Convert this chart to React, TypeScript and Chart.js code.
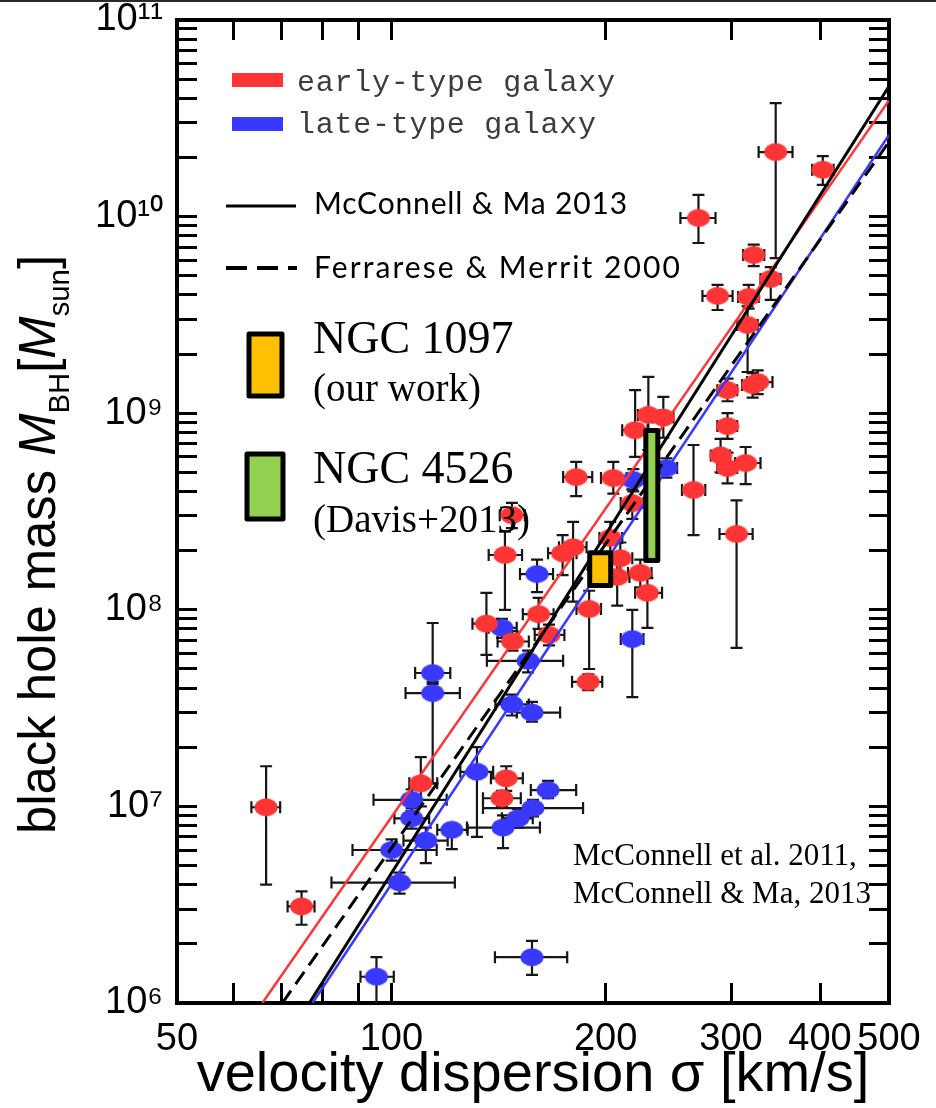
import React, { useEffect, useRef } from 'react';
import { Chart, registerables } from 'chart.js';

Chart.register(...registerables);

// ---------- axis ticks ----------
const xLabeledTicks = [50, 100, 200, 300, 400, 500];
const xTickLabels = ['50', '100', '200', '300', '400', '500'];
const xMinorTicks = [60, 70, 80, 90];
const yLabeledTicks = [1e6, 1e7, 1e8, 1e9, 1e10, 1e11];
const yTickLabels = ['10⁶', '10⁷', '10⁸', '10⁹', '10¹⁰', '10¹¹'];
const yMantissas = [2, 3, 4, 5, 6, 7, 8, 9];

// ---------- early-type galaxies (red) ----------
const earlySigma = [66.7, 74.8, 110, 145, 143, 136, 148, 161, 166.5, 144.4, 189.6, 189, 180, 174, 181.8, 205, 218, 147.7, 209.7, 223.7, 207.6, 203, 228.9, 229.6, 241, 220, 296.6, 296.6, 290, 296.6, 314.5, 265.7, 305.4, 316.5, 327, 321.7, 346.6, 403.6, 270, 322.8, 341.1, 287.2, 317.6];
const earlyMass = [9.9e6, 3.1e6, 1.31e7, 1.39e7, 1.1e7, 8.5e7, 6.9e7, 9.5e7, 7.45e7, 1.9e8, 1.01e8, 4.3e7, 2.08e8, 1.94e8, 4.73e8, 4.68e8, 3.49e8, 3.03e8, 1.83e8, 1.54e8, 1.47e8, 2.32e8, 1.22e8, 9.8e8, 9.5e8, 8.2e8, 1.31e9, 8.6e8, 6.1e8, 5.26e8, 5.58e8, 4.07e8, 2.43e8, 2.81e9, 1.44e9, 1.39e9, 2.13e10, 1.73e10, 9.84e9, 6.38e9, 4.82e9, 3.95e9, 3.9e9];
const earlySigmaLo = [63.6, 71.5, 106, 138, 134.5, 130, 141, 153, 159, 137, 182, 179.4, 172, 166, 174.3, 197, 210, 142, 202, 215, 200, 196, 220, 222, 233, 211, 287, 287, 281, 287, 304, 256, 289, 306, 316, 311, 328, 390, 254.7, 312, 330, 273.5, 307];
const earlySigmaHi = [69.8, 78, 116, 153, 152, 141, 156, 169, 175, 152.6, 197, 197.8, 188, 182, 191.5, 214, 226, 154, 218, 232, 216, 211, 240, 238, 249, 229, 306, 306, 299, 306, 330, 276, 321.7, 327, 343, 332, 366, 418, 285.3, 334, 352, 301.5, 328];
const earlyMassLo = [4.0e6, 2.5e6, 1.0e7, 1.2e7, 1.0e7, 5.9e7, 6.2e7, 8.0e7, 6.6e7, 1.0e8, 5.0e7, 3.9e7, 1.1e8, 1.5e8, 3.79e8, 3.9e8, 2.9e8, 2.6e8, 1.5e8, 1.3e8, 1.05e8, 1.9e8, 8.1e7, 6.5e8, 7.5e8, 6.0e8, 1.15e9, 7.4e8, 5.0e8, 4.4e8, 4.36e8, 2.4e8, 6.4e7, 1.62e9, 1.25e9, 1.2e9, 6.15e9, 1.45e10, 7.34e9, 5.6e9, 3.77e9, 3.35e9, 3.4e9];
const earlyMassHi = [1.6e7, 3.7e6, 1.78e7, 1.6e7, 1.2e7, 1.22e8, 7.8e7, 1.15e8, 8.4e7, 2.5e8, 1.25e8, 4.7e7, 2.8e8, 2.4e8, 5.65e8, 5.65e8, 4.1e8, 3.5e8, 2.2e8, 1.8e8, 1.8e8, 2.8e8, 1.45e8, 1.53e9, 1.21e9, 1.31e9, 1.5e9, 1.0e9, 7.4e8, 6.3e8, 6.73e8, 6.89e8, 3.6e8, 3.5e9, 1.65e9, 1.6e9, 3.78e10, 2.03e10, 1.29e10, 7.2e9, 5.54e9, 4.5e9, 4.5e9];

// ---------- late-type galaxies (blue) ----------
const lateSigma = [106.8, 106.8, 100.1, 111.8, 121.6, 102.7, 131.9, 166, 158.1, 150.6, 143.5, 157.6, 95.3, 114.3, 114.3, 147.7, 157.6, 155.6, 218, 143, 160.2, 218.7, 243.4];
const lateMass = [1.08e7, 8.7e6, 6.0e6, 6.7e6, 7.6e6, 4.1e6, 1.5e7, 1.21e7, 9.8e6, 8.7e6, 7.8e6, 1.71e6, 1.36e6, 4.77e7, 3.77e7, 3.3e7, 3.0e7, 5.5e7, 7.1e7, 8.1e7, 1.52e8, 4.57e8, 5.26e8];
const lateSigmaLo = [94.4, 101, 88.2, 104, 116, 82.4, 125, 157, 134.5, 143, 127.7, 139.8, 90.5, 108, 104.7, 140, 150, 136.2, 210, 137, 151.6, 211, 235];
const lateSigmaHi = [119.6, 113, 115.8, 120, 128, 122.8, 139, 181.8, 185.9, 158, 161.7, 176.6, 100.8, 121, 124.8, 156, 172.6, 174.3, 226, 150, 168.7, 227, 252];
const lateMassLo = [9.5e6, 7.7e6, 5.3e6, 5.15e6, 6.07e6, 3.6e6, 7.0e6, 1.1e7, 8.9e6, 7.8e6, 6.14e6, 1.39e6, 9.0e5, 4.2e7, 1.31e7, 2.9e7, 2.7e7, 4.8e7, 3.6e7, 7.2e7, 1.23e8, 4.0e8, 4.7e8];
const lateMassHi = [1.22e7, 9.8e6, 6.8e6, 7.8e6, 8.14e6, 4.6e6, 2.0e7, 1.35e7, 1.08e7, 9.7e6, 9.0e6, 2.07e6, 1.71e6, 8.57e7, 4.3e7, 3.7e7, 3.4e7, 6.2e7, 1.0e8, 9.0e7, 1.8e8, 5.2e8, 5.9e8];

// ---------- fit relations (end points) ----------
const earlyFitSigma = [65.9, 500];
const earlyFitMass = [1e6, 3.9e10];
const lateFitSigma = [77.5, 500];
const lateFitMass = [1e6, 2.6e10];
const mm13FitSigma = [76.7, 500];
const mm13FitMass = [1e6, 4.6e10];
const fm00FitSigma = [70.3, 500];
const fm00FitMass = [1e6, 2.4e10];

// ---------- highlighted galaxies ----------
const ngcNames = ['NGC 1097', 'NGC 4526'];
const ngcSigma = [196.5, 232.2];
const ngcMassLo = [1.33e8, 1.78e8];
const ngcMassHi = [1.95e8, 8.17e8];
const ngcColors = ['#ffc000', '#92d050'];

// ---------- styles ----------
const RED = '#ff3434';
const BLUE = '#3838ff';
const SANS = '"Liberation Sans", Arial, sans-serif';
const SERIF = '"Liberation Serif", "Times New Roman", serif';
const MONO = '"Liberation Mono", "DejaVu Sans Mono", monospace';
const CAP = 6;
const NGC_HALF_W = [10.5, 6];

function pts(xs: number[], ys: number[]) {
  return xs.map((x, i) => ({ x, y: ys[i] }));
}

function makeEllipse(color: string, w: number, h: number) {
  const c = document.createElement('canvas');
  c.width = w;
  c.height = h;
  const g = c.getContext('2d') as CanvasRenderingContext2D;
  g.fillStyle = color;
  g.beginPath();
  g.ellipse(w / 2, h / 2, w / 2 - 0.5, h / 2 - 0.5, 0, 0, Math.PI * 2);
  g.fill();
  return c;
}

function fitText(ctx: CanvasRenderingContext2D, text: string, x: number, y: number, width: number) {
  (ctx as any).letterSpacing = '0px';
  const w = ctx.measureText(text).width;
  const sp = (width - w) / Math.max(1, text.length - 1);
  (ctx as any).letterSpacing = sp.toFixed(2) + 'px';
  ctx.fillText(text, x, y);
  (ctx as any).letterSpacing = '0px';
}

function drawErrors(ctx: CanvasRenderingContext2D, xs: any, ys: any, s: number[], m: number[], sLo: number[], sHi: number[], mLo: number[], mHi: number[]) {
  for (let i = 0; i < s.length; i++) {
    const px = xs.getPixelForValue(s[i]);
    const py = ys.getPixelForValue(m[i]);
    const xl = xs.getPixelForValue(sLo[i]);
    const xr = xs.getPixelForValue(sHi[i]);
    const yt = ys.getPixelForValue(mHi[i]);
    const yb = ys.getPixelForValue(mLo[i]);
    ctx.beginPath();
    ctx.moveTo(xl, py); ctx.lineTo(xr, py);
    ctx.moveTo(px, yt); ctx.lineTo(px, yb);
    ctx.moveTo(xl, py - CAP); ctx.lineTo(xl, py + CAP);
    ctx.moveTo(xr, py - CAP); ctx.lineTo(xr, py + CAP);
    ctx.moveTo(px - CAP, yt); ctx.lineTo(px + CAP, yt);
    ctx.moveTo(px - CAP, yb); ctx.lineTo(px + CAP, yb);
    ctx.stroke();
  }
}

const errorBarPlugin = {
  id: 'errorBars',
  beforeDatasetsDraw(chart: any) {
    const { ctx, chartArea, scales } = chart;
    ctx.save();
    ctx.beginPath();
    ctx.rect(chartArea.left, chartArea.top, chartArea.right - chartArea.left, chartArea.bottom - chartArea.top);
    ctx.clip();
    ctx.strokeStyle = '#161616';
    ctx.lineWidth = 2.2;
    drawErrors(ctx, scales.x, scales.y, lateSigma, lateMass, lateSigmaLo, lateSigmaHi, lateMassLo, lateMassHi);
    drawErrors(ctx, scales.x, scales.y, earlySigma, earlyMass, earlySigmaLo, earlySigmaHi, earlyMassLo, earlyMassHi);
    ctx.restore();
  },
  afterDatasetsDraw(chart: any) {
    const { ctx, scales } = chart;
    ctx.save();
    for (let i = 0; i < ngcSigma.length; i++) {
      const cx = scales.x.getPixelForValue(ngcSigma[i]);
      const yt = scales.y.getPixelForValue(ngcMassHi[i]);
      const yb = scales.y.getPixelForValue(ngcMassLo[i]);
      const hw = NGC_HALF_W[i];
      ctx.fillStyle = ngcColors[i];
      ctx.fillRect(cx - hw, yt, hw * 2, yb - yt);
      ctx.lineWidth = 5;
      ctx.lineJoin = 'round';
      ctx.strokeStyle = '#000';
      ctx.strokeRect(cx - hw, yt, hw * 2, yb - yt);
    }
    ctx.restore();
  },
};

const decorPlugin = {
  id: 'decor',
  afterDraw(chart: any) {
    const ctx: CanvasRenderingContext2D = chart.ctx;
    ctx.save();
    // thin frame line along the top edge of the picture
    ctx.fillStyle = '#2a2a2a';
    ctx.fillRect(0, 0, chart.width, 2);
    ctx.textBaseline = 'alphabetic';
    ctx.textAlign = 'left';
    // colour legend
    ctx.fillStyle = RED;
    ctx.fillRect(232, 73, 51, 14);
    ctx.fillStyle = BLUE;
    ctx.fillRect(232, 117, 51, 14);
    ctx.fillStyle = '#3c3c3c';
    ctx.font = `30px ${MONO}`;
    fitText(ctx, 'early-type galaxy', 297, 91, 318);
    fitText(ctx, 'late-type galaxy', 297, 133, 299);
    // line legend
    ctx.strokeStyle = '#000';
    ctx.lineWidth = 3;
    ctx.beginPath();
    ctx.moveTo(226, 206); ctx.lineTo(296, 206);
    ctx.stroke();
    ctx.lineWidth = 4;
    ctx.setLineDash([21, 10]);
    ctx.beginPath();
    ctx.moveTo(226, 268); ctx.lineTo(297, 268);
    ctx.stroke();
    ctx.setLineDash([]);
    ctx.fillStyle = '#000';
    ctx.font = `30px Lato, "Open Sans", sans-serif`;
    fitText(ctx, 'McConnell & Ma 2013', 314, 214, 313);
    fitText(ctx, 'Ferrarese & Merrit 2000', 314, 278, 366);
    // NGC legend
    const sw = [[249, 334, 33, 62], [247, 454, 36, 65]];
    for (let i = 0; i < 2; i++) {
      ctx.fillStyle = ngcColors[i];
      ctx.fillRect(sw[i][0], sw[i][1], sw[i][2], sw[i][3]);
      ctx.lineWidth = 5;
      ctx.lineJoin = 'round';
      ctx.strokeStyle = '#000';
      ctx.strokeRect(sw[i][0], sw[i][1], sw[i][2], sw[i][3]);
    }
    ctx.fillStyle = '#000';
    ctx.font = `46px ${SERIF}`;
    ctx.fillText(ngcNames[0], 313, 353);
    ctx.fillText(ngcNames[1], 313, 483);
    ctx.font = `39px ${SERIF}`;
    ctx.fillText('(our work)', 313, 401);
    ctx.fillText('(Davis+2013)', 313, 532);
    // source note
    ctx.font = `31px ${SERIF}`;
    ctx.fillText('McConnell et al. 2011,', 573, 865);
    ctx.fillText('McConnell & Ma, 2013', 573, 903);
    // y title (rich text)
    const segs = [
      { t: 'black hole mass ', f: `52px ${SANS}`, dy: 0 },
      { t: 'M', f: `italic 52px ${SANS}`, dy: 0 },
      { t: 'BH', f: `30px ${SANS}`, dy: 14 },
      { t: '[', f: `52px ${SANS}`, dy: 0 },
      { t: 'M', f: `italic 52px ${SANS}`, dy: 0 },
      { t: 'sun', f: `30px ${SANS}`, dy: 14 },
      { t: ']', f: `52px ${SANS}`, dy: 0 },
    ];
    let total = 0;
    const widths = segs.map((s) => { ctx.font = s.f; const w = ctx.measureText(s.t).width; total += w; return w; });
    const sx = 579 / total;
    ctx.translate(55, 834);
    ctx.rotate(-Math.PI / 2);
    ctx.scale(sx, 1);
    let xx = 0;
    segs.forEach((s, i) => { ctx.font = s.f; ctx.fillText(s.t, xx, s.dy); xx += widths[i]; });
    ctx.restore();
  },
};

function yTicksList() {
  const out: { value: number }[] = [];
  for (let d = 0; d < yLabeledTicks.length - 1; d++) {
    out.push({ value: yLabeledTicks[d] });
    yMantissas.forEach((m) => out.push({ value: m * yLabeledTicks[d] }));
  }
  out.push({ value: yLabeledTicks[yLabeledTicks.length - 1] });
  return out;
}
function xTicksList() {
  return [...xLabeledTicks, ...xMinorTicks].sort((a, b) => a - b).map((v) => ({ value: v }));
}
function labelOf(v: number, ticks: number[], labels: string[]) {
  const i = ticks.findIndex((t) => Math.abs(t - v) / t < 1e-6);
  return i >= 0 ? labels[i] : '';
}
function fixBox(s: any, w: number | null, h: number | null) {
  if (w !== null) s.width = w;
  if (h !== null) s.height = h;
  s.paddingLeft = 0;
  s.paddingRight = 0;
  s.paddingTop = 0;
  s.paddingBottom = 0;
}

const gridOpts = { drawOnChartArea: false, drawTicks: true, tickLength: -20, tickWidth: 3, color: '#000' };
const borderOpts = { display: true, width: 4, color: '#000' };

export default function App() {
  const ref = useRef<HTMLCanvasElement | null>(null);
  useEffect(() => {
    if (!ref.current) return;
    const redImg = makeEllipse(RED, 24, 19);
    const blueImg = makeEllipse(BLUE, 24, 19);
    const chart = new Chart(ref.current, {
      type: 'scatter',
      data: {
        datasets: [
          { label: 'McConnell & Ma 2013', data: pts(mm13FitSigma, mm13FitMass), showLine: true, pointRadius: 0, borderColor: '#000', borderWidth: 3, order: 0 },
          { label: 'Ferrarese & Merrit 2000', data: pts(fm00FitSigma, fm00FitMass), showLine: true, pointRadius: 0, borderColor: '#000', borderWidth: 3, borderDash: [15, 8], order: 0 },
          { label: 'early fit', data: pts(earlyFitSigma, earlyFitMass), showLine: true, pointRadius: 0, borderColor: RED, borderWidth: 2.5, order: 0 },
          { label: 'late fit', data: pts(lateFitSigma, lateFitMass), showLine: true, pointRadius: 0, borderColor: BLUE, borderWidth: 2.5, order: 0 },
          { label: 'early-type galaxy', data: pts(earlySigma, earlyMass), pointStyle: redImg as any, pointRadius: 10, order: 1 },
          { label: 'late-type galaxy', data: pts(lateSigma, lateMass), pointStyle: blueImg as any, pointRadius: 10, order: 2 },
        ],
      },
      options: {
        animation: false,
        responsive: false,
        events: [],
        layout: { padding: 0 },
        plugins: { legend: { display: false }, tooltip: { enabled: false } },
        scales: {
          x: {
            type: 'logarithmic', position: 'bottom', min: 50, max: 500,
            afterBuildTicks: (s: any) => { s.ticks = xTicksList(); },
            afterFit: (s: any) => fixBox(s, null, 105),
            ticks: { autoSkip: false, maxRotation: 0, padding: 38, color: '#000', font: { family: SANS, size: 38, lineHeight: 1 }, callback: (v: any) => labelOf(Number(v), xLabeledTicks, xTickLabels) },
            grid: gridOpts, border: borderOpts,
            title: { display: true, text: 'velocity dispersion σ [km/s]', color: '#000', font: { family: SANS, size: 56, lineHeight: 1.1 }, padding: { top: 0, bottom: 2 } },
          },
          x2: {
            type: 'logarithmic', position: 'top', min: 50, max: 500,
            afterBuildTicks: (s: any) => { s.ticks = xTicksList(); },
            afterFit: (s: any) => fixBox(s, null, 20),
            ticks: { display: false, autoSkip: false },
            grid: gridOpts, border: borderOpts,
          },
          y: {
            type: 'logarithmic', position: 'left', min: 1e6, max: 1e11,
            afterBuildTicks: (s: any) => { s.ticks = yTicksList(); },
            afterFit: (s: any) => fixBox(s, 177, null),
            ticks: { autoSkip: false, padding: 34, color: '#000', font: { family: SANS, size: 38, lineHeight: 1 }, callback: (v: any) => labelOf(Number(v), yLabeledTicks, yTickLabels) },
            grid: gridOpts, border: borderOpts,
          },
          y2: {
            type: 'logarithmic', position: 'right', min: 1e6, max: 1e11,
            afterBuildTicks: (s: any) => { s.ticks = yTicksList(); },
            afterFit: (s: any) => fixBox(s, 47, null),
            ticks: { display: false, autoSkip: false },
            grid: gridOpts, border: borderOpts,
          },
        },
      } as any,
      plugins: [errorBarPlugin, decorPlugin],
    });
    return () => chart.destroy();
  }, []);
  return (
    <div style={{ position: 'absolute', left: 0, top: 0, width: 936, height: 1108, background: '#fff' }}>
      <canvas ref={ref} width={936} height={1108} style={{ display: 'block' }} />
    </div>
  );
}
